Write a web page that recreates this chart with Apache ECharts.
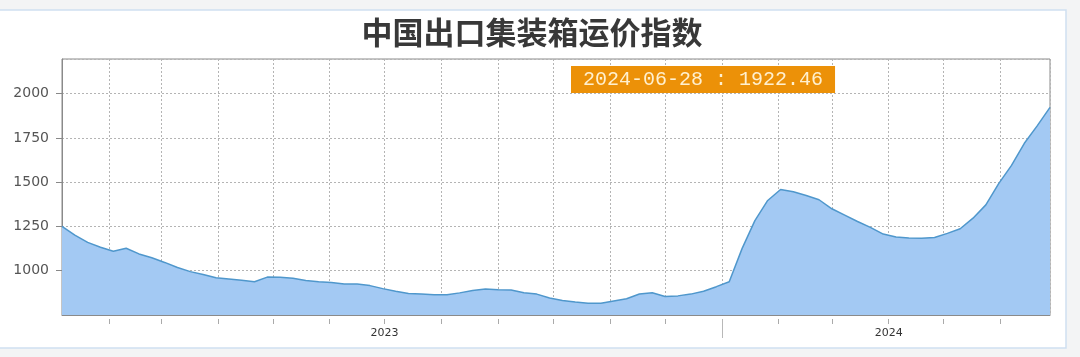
<!DOCTYPE html>
<html>
<head>
<meta charset="utf-8">
<script src="https://cdn.jsdelivr.net/npm/echarts@6/dist/echarts.min.js"></script>
<style>
  html, body { margin: 0; padding: 0; background: #f3f4f5; }
  #chart { width: 1080px; height: 357px; }
</style>
</head>
<body>
<div id="chart"></div>
<script>
// ---- data ----
const chartTitle = '中国出口集装箱运价指数';
const startDate = '2023-01-06';      // first weekly observation (Friday)
const endDate = '2024-06-28';        // last weekly observation
const ccfiValues = [
  1250, 1201, 1160, 1133, 1110, 1127, 1095, 1073, 1047, 1018,
  995, 979, 960, 953, 946, 938, 964, 963, 957, 945,
  938, 933, 925, 925, 916, 899, 884, 871, 869, 865,
  864, 875, 889, 897, 892, 891, 876, 868, 846, 832,
  823, 816, 816, 829, 842, 869, 876, 855, 858, 868,
  884, 910, 938, 1125, 1283, 1397, 1459, 1446, 1425, 1401,
  1350, 1314, 1278, 1245, 1207, 1190, 1185, 1183, 1188, 1211,
  1237, 1297, 1372, 1492, 1595, 1720, 1818, 1922.46
];
const yTicks = [1000, 1250, 1500, 1750, 2000];
const yearLabels = [ { month: '2023-07', text: '2023' }, { month: '2024-04', text: '2024' } ];
const yearBoundaries = ['2024-01-01'];

// weekly dates
const DAY = 86400000;
function parseDate(s) { const p = s.split('-').map(Number); return new Date(p[0], p[1] - 1, p[2] || 1).getTime(); }
const t0 = parseDate(startDate);
const seriesData = ccfiValues.map((v, i) => [t0 + i * 7 * DAY, v]);
const tEnd = parseDate(endDate);
function pad(n) { return (n < 10 ? '0' : '') + n; }
function fmtDate(t) { const d = new Date(t); return d.getFullYear() + '-' + pad(d.getMonth() + 1) + '-' + pad(d.getDate()); }
const lastVal = ccfiValues[ccfiValues.length - 1];
const tagText = fmtDate(tEnd) + ' : ' + lastVal.toFixed(2);

// month-start tick positions within the range
const monthStarts = [];
(function () {
  const d = new Date(t0); let y = d.getFullYear(), m = d.getMonth() + 1;
  while (true) {
    if (m > 11) { m = 0; y++; }
    const t = new Date(y, m, 1).getTime();
    if (t > tEnd) break;
    monthStarts.push(t); m++;
  }
})();
const yearBoundaryValues = yearBoundaries.map(parseDate);

const chart = echarts.init(document.getElementById('chart'), null, { renderer: 'canvas' });
const gridLine = { show: true, lineStyle: { color: '#b4b4b4', type: [2, 2], width: 1 } };
function tickAxis(values, len, color) {
  return {
    type: 'value', min: t0, max: tEnd, position: 'bottom', offset: 4,
    axisLine: { show: false },
    axisTick: { show: true, length: len, customValues: values, lineStyle: { color: color } },
    axisLabel: { show: false },
    splitLine: { show: false }
  };
}
chart.setOption({
  backgroundColor: '#f3f4f5',
  animation: false,
  graphic: [{
    type: 'rect', z: -10, silent: true,
    shape: { x: -2, y: 10, width: 1068, height: 338 },
    style: { fill: '#ffffff', stroke: '#cfe0f1', lineWidth: 1.5 }
  }],
  title: [{
    text: chartTitle, left: 527, top: 12, textAlign: 'center',
    textStyle: { fontFamily: 'Noto Sans CJK SC', fontSize: 31, fontWeight: 'bold', color: '#383838' }
  }, {
    text: tagText, left: 571, top: 66,
    backgroundColor: '#ec9108', padding: [4, 12, 3, 12],
    textStyle: { fontFamily: 'Liberation Mono', fontSize: 20, fontWeight: 'normal', color: '#fff0cf', lineHeight: 20 }
  }],
  grid: { left: 62, right: 30, top: 59, bottom: 42, show: true, borderColor: '#8a8a8a', borderWidth: 1, backgroundColor: 'transparent' },
  xAxis: [{
    type: 'time', min: t0, max: tEnd, minInterval: 28 * DAY, maxInterval: 31 * DAY,
    axisLine: { show: true, lineStyle: { color: '#8a8a8a' } },
    axisTick: { show: false },
    splitLine: gridLine,
    axisLabel: {
      margin: 13, fontFamily: 'DejaVu Sans', fontSize: 11, color: '#333',
      formatter: function (value) {
        const d = new Date(value);
        const key = d.getFullYear() + '-' + pad(d.getMonth() + 1);
        const m = yearLabels.find(y => y.month === key);
        return m ? m.text : '';
      }
    }
  }, tickAxis(monthStarts, 5, '#aaa'), tickAxis(yearBoundaryValues, 19, '#b8b8b8')],
  yAxis: {
    type: 'value', min: 750, max: 2196, interval: 250,
    axisLine: { show: true, lineStyle: { color: '#8a8a8a' } },
    axisTick: { show: true, length: 6, lineStyle: { color: '#888' } },
    splitLine: gridLine,
    axisLabel: {
      margin: 13, fontFamily: 'DejaVu Sans', fontSize: 14, color: '#555',
      showMinLabel: false, showMaxLabel: false,
      formatter: v => (yTicks.indexOf(v) >= 0 ? String(v) : '')
    }
  },
  series: [{
    type: 'line', data: seriesData, xAxisIndex: 0,
    showSymbol: false, smooth: false,
    lineStyle: { color: '#4f97cc', width: 1.5 },
    areaStyle: { color: '#a3c9f3', opacity: 1 }
  }]
});
</script>
</body>
</html>
